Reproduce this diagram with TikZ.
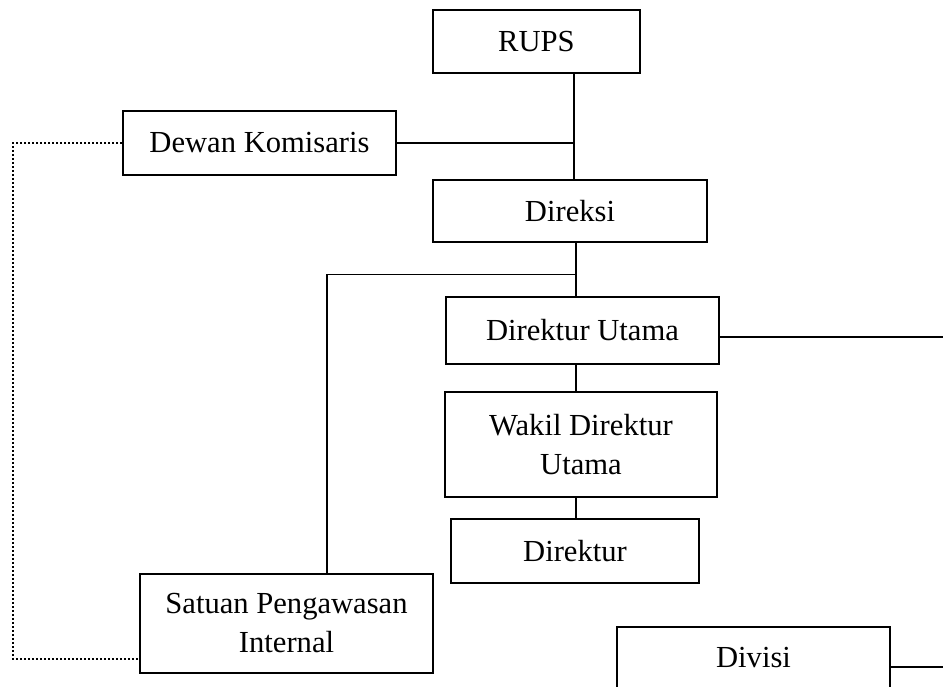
\documentclass[tikz,border=0pt]{standalone}
\usepackage{fontspec}
\setmainfont{Liberation Serif}
\begin{document}
\begin{tikzpicture}[x=1pt,y=-1pt,
  box/.style={draw,line width=1.9pt,inner sep=0pt,align=center,font=\fontsize{30.6}{39}\selectfont},
  link/.style={line width=1.9pt},
  dotlink/.style={line width=2.2pt,dash pattern=on 2pt off 2pt}]
\useasboundingbox (0,0) rectangle (943,686);
\clip (0,0) rectangle (943,686);
\node[box,minimum width=207pt,minimum height=63pt] (rups) at (536.5,41.5) {RUPS};
\node[box,minimum width=274pt,minimum height=62pt] (direksi) at (570,211) {Direksi};
\node[box,minimum width=273pt,minimum height=64pt] (dewan) at (259.5,143) {Dewan Komisaris};
\node[box,minimum width=273pt,minimum height=67pt] (dirut) at (582.5,330.5) {Direktur Utama};
\node[box,minimum width=272pt,minimum height=105pt] (wakil) at (581,444.5) {Wakil Direktur\\Utama};
\node[box,minimum width=248pt,minimum height=64pt] (direktur) at (575,551) {Direktur};
\node[box,minimum width=293pt,minimum height=99pt] (spi) at (286.5,623.5) {Satuan Pengawasan\\Internal};
\node[box,minimum width=273pt,minimum height=62pt] (divisi) at (753.5,658) {Divisi};
\coordinate (vx) at (574,0);
\coordinate (vx2) at (576,0);
\coordinate (j) at (576,274.5);
\coordinate (spix) at (327,0);
\coordinate (r1) at (943,337);
\coordinate (r2) at (943,667);
\coordinate (d1) at (13,143);
\coordinate (d2) at (13,659);
\draw[link] (rups.south -| vx) -- (direksi.north -| vx);
\draw[link] (dewan.east) -- (dewan.east -| vx);
\draw[link] (direksi.south -| vx2) -- (dirut.north -| vx2);
\draw[link] (j) -- (j -| spix) -- (spi.north -| spix);
\draw[link] (dirut.east |- r1) -- (r1);
\draw[link] (dirut.south -| vx2) -- (wakil.north -| vx2);
\draw[link] (wakil.south -| vx2) -- (direktur.north -| vx2);
\draw[link] (divisi.east |- r2) -- (r2);
\draw[dotlink] (dewan.west) -- (dewan.west -| d1) -- (d2) -- (d2 -| spi.west);
\end{tikzpicture}
\end{document}
